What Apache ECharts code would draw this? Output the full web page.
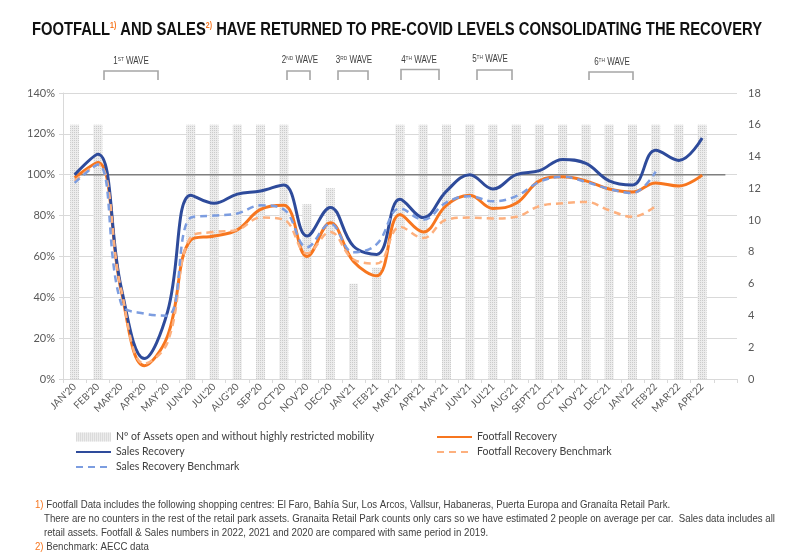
<!DOCTYPE html>
<html>
<head>
<meta charset="utf-8">
<script src="https://cdn.jsdelivr.net/npm/echarts@6/dist/echarts.min.js"></script>
<style>
html,body{margin:0;padding:0;background:#fff;}
#chart{width:800px;height:555px;}
</style>
</head>
<body>
<div id="chart"></div>
<script>
// ---- data ----
const categories = ["JAN'20","FEB'20","MAR'20","APR'20","MAY'20","JUN'20","JUL'20","AUG'20","SEP'20","OCT'20","NOV'20","DEC'20","JAN'21","FEB'21","MAR'21","APR'21","MAY'21","JUN'21","JUL'21","AUG'21","SEPT'21","OCT'21","NOV'21","DEC'21","JAN'22","FEB'22","MAR'22","APR'22",""];
const assetsOpen = [16,16,0,0,0,16,16,16,16,16,11,12,6,7,16,16,16,16,16,16,16,16,16,16,16,16,16,16,null];
const salesRecovery = [100,110,45,10,33,90,86,90.5,92,95,70,84,65,61,88,79,92,100,93,100,102,107.5,105.5,97,95,112,107,118,null];
const salesBenchmark = [96,105,37,32,31,79,80,81,85,83,64.5,76,62,66,83.5,78,86.5,89.5,87,89.5,96.5,99,96.5,93,91,101.5,null,null,null];
const footfallRecovery = [98.5,106,43.5,6.5,21,68,70,73,83,85,60,76.5,57.5,50.5,80.5,72,85,90,83.5,86,97,99,97,93,91.5,96,94.5,99.8,null];
const footfallBenchmark = [97,105,44,7.5,18,69.5,72,73,79,78,61.5,72,58.5,56.5,74.5,69,78,79,78.6,79.4,84.6,86,86.7,82.6,79.4,84.6,null,null,null];
const baseline = [100,100,100,100,100,100,100,100,100,100,100,100,100,100,100,100,100,100,100,100,100,100,100,100,100,100,100,100,100];
const leftTicks = {min:0, max:140, interval:20};
const rightTicks = {min:0, max:18, interval:2};
const waves = [
  {n:'1', sup:'ST', x:131, y:61, x0:104, x1:158, top:71},
  {n:'2', sup:'ND', x:300, y:60, x0:287, x1:310, top:71},
  {n:'3', sup:'RD', x:354, y:60, x0:338, x1:368, top:71},
  {n:'4', sup:'TH', x:419, y:60, x0:401, x1:439, top:69.5},
  {n:'5', sup:'TH', x:490, y:59, x0:477, x1:512, top:70},
  {n:'6', sup:'TH', x:612, y:62, x0:589, x1:633, top:72}
];

const FONT = "'Liberation Sans', Arial, sans-serif";
const LBL = "Lato, 'Liberation Sans', sans-serif";

// text measurement helper for horizontal condensing
const mctx = document.createElement('canvas').getContext('2d');
function tw(txt, size, weight) {
  mctx.font = (weight || 'normal') + ' ' + size + 'px ' + FONT;
  return mctx.measureText(txt).width;
}

const graphics = [];

// Title (condensed via scaleX)
const T1 = 'FOOTFALL', T2 = ' AND SALES', T3 = ' HAVE RETURNED TO PRE-COVID LEVELS CONSOLIDATING THE RECOVERY';
const titleSize = 18, supSize = 8.5;
const titleW = tw(T1, titleSize, 'bold') + tw(T2, titleSize, 'bold') + tw(T3, titleSize, 'bold') + 2 * tw('1)', supSize, 'bold');
const titleScale = 730 / titleW;
graphics.push({
  type:'text', x:397, y:30, scaleX:titleScale, scaleY:1,
  style:{
    x:0, y:0,
    text:'{a|'+T1+'}{s|1)}{a|'+T2+'}{s|2)}{a|'+T3+'}',
    align:'center', textAlign:'center', verticalAlign:'middle', textVerticalAlign:'middle',
    rich:{
      a:{fontFamily:FONT, fontWeight:'bold', fontSize:titleSize, fill:'#111111', color:'#111111'},
      s:{fontFamily:FONT, fontWeight:'bold', fontSize:supSize, fill:'#f7761f', color:'#f7761f', verticalAlign:'top'}
    }
  }
});

waves.forEach(w => {
  graphics.push({
    type:'text', x:w.x, y:w.y, scaleX:0.8, scaleY:1,
    style:{
      x:0, y:0,
      text:'{a|'+w.n+'}{s|'+w.sup+'}{a| WAVE}',
      align:'center', textAlign:'center', verticalAlign:'middle', textVerticalAlign:'middle',
      rich:{
        a:{fontFamily:FONT, fontSize:10, fill:'#404040', color:'#404040'},
        s:{fontFamily:FONT, fontSize:6, fill:'#404040', color:'#404040', verticalAlign:'top'}
      }
    }
  });
  graphics.push({
    type:'polyline',
    shape:{points:[[w.x0,80],[w.x0,w.top],[w.x1,w.top],[w.x1,80]]},
    style:{stroke:'#a6a6a6', lineWidth:1.6, fill:null}
  });
});

// Footnotes
const footSize = 10.5;
const FN2 = 'There are no counters in the rest of the retail park assets. Granaita Retail Park counts only cars so we have estimated 2 people on average per car.  Sales data includes all';
const footScale = 731 / tw(FN2, footSize);
const footRich = {
  o:{fontFamily:FONT, fontSize:footSize, fill:'#f7761f', color:'#f7761f'},
  t:{fontFamily:FONT, fontSize:footSize, fill:'#404040', color:'#404040'}
};
const footnotes = [
  {x:35, y:505, text:'{o|1)}{t| Footfall Data includes the following shopping centres: El Faro, Bahía Sur, Los Arcos, Vallsur, Habaneras, Puerta Europa and Granaíta Retail Park.}'},
  {x:44, y:519, text:'{t|' + FN2 + '}'},
  {x:44, y:533, text:'{t|retail assets. Footfall & Sales numbers in 2022, 2021 and 2020 are compared with same period in 2019.}'},
  {x:35, y:547, text:'{o|2)}{t| Benchmark: AECC data}'}
];
footnotes.forEach(f => {
  graphics.push({type:'text', x:f.x, y:f.y, scaleX:footScale, scaleY:1,
    style:{x:0, y:0, text:f.text, verticalAlign:'middle', textVerticalAlign:'middle', rich:footRich}});
});

const hideSym = {opacity:0};
const legendText = {fontFamily:LBL, fontSize:10.5, color:'#404040', lineHeight:12};
const barDecal = {symbol:'rect', symbolSize:1, dashArrayX:[1,1], dashArrayY:[1,1], color:'rgba(200,200,200,0.9)', rotation:0};

const chart = echarts.init(document.getElementById('chart'), null, {renderer:'canvas'});
chart.setOption({
  animation:false,
  backgroundColor:'#ffffff',
  grid:{left:63, right:63, top:93, bottom:176, containLabel:false},
  legend:[
    {
      orient:'vertical', left:75, top:431, padding:0, itemWidth:35, itemHeight:9, itemGap:3,
      textStyle:legendText,
      data:[
        {name:'Nº of Assets open and without highly restricted mobility', icon:'rect'},
        {name:'Sales Recovery', itemStyle:hideSym},
        {name:'Sales Recovery Benchmark', itemStyle:hideSym}
      ]
    },
    {
      orient:'vertical', left:436, top:431, padding:0, itemWidth:35, itemHeight:9, itemGap:3,
      textStyle:legendText,
      data:[
        {name:'Footfall Recovery', itemStyle:hideSym},
        {name:'Footfall Recovery Benchmark', itemStyle:hideSym}
      ]
    }
  ],
  xAxis:{
    type:'category', data:categories, boundaryGap:true,
    axisLine:{lineStyle:{color:'#d9d9d9', width:1}},
    axisTick:{show:true, length:4, lineStyle:{color:'#d9d9d9'}},
    axisLabel:{rotate:45, interval:0, fontFamily:LBL, fontSize:10, color:'#595959', margin:6}
  },
  yAxis:[
    {
      type:'value', min:leftTicks.min, max:leftTicks.max, interval:leftTicks.interval,
      axisLine:{show:true, lineStyle:{color:'#d9d9d9'}},
      axisTick:{show:true, length:4, lineStyle:{color:'#d9d9d9'}},
      splitLine:{lineStyle:{color:'#d9d9d9', width:1}},
      axisLabel:{formatter:'{value}%', fontFamily:LBL, fontSize:11, color:'#595959', margin:8}
    },
    {
      type:'value', min:rightTicks.min, max:rightTicks.max, interval:rightTicks.interval,
      axisLine:{show:false}, axisTick:{show:false}, splitLine:{show:false},
      axisLabel:{fontFamily:LBL, fontSize:11, color:'#595959', margin:11}
    }
  ],
  graphic:graphics,
  series:[
    {
      name:'Nº of Assets open and without highly restricted mobility', type:'bar', yAxisIndex:1,
      data:assetsOpen, barWidth:9,
      itemStyle:{color:'#ececec', decal:barDecal}, z:1
    },
    {
      name:'baseline', type:'line', data:baseline, symbol:'none', silent:true,
      lineStyle:{color:'#7f7f7f', width:1.6}, z:2
    },
    {
      name:'Footfall Recovery', type:'line', data:footfallRecovery, symbol:'none', smooth:0.4,
      lineStyle:{color:'#f7761f', width:3}, itemStyle:{color:'#f7761f'}, z:3
    },
    {
      name:'Sales Recovery', type:'line', data:salesRecovery, symbol:'none', smooth:0.4,
      lineStyle:{color:'#2e4b9b', width:3}, itemStyle:{color:'#2e4b9b'}, z:4
    },
    {
      name:'Footfall Recovery Benchmark', type:'line', data:footfallBenchmark, symbol:'none', smooth:0.4,
      lineStyle:{color:'#fdb07e', width:2.5, type:[7,5]}, itemStyle:{color:'#fdb07e'}, z:5
    },
    {
      name:'Sales Recovery Benchmark', type:'line', data:salesBenchmark, symbol:'none', smooth:0.4,
      lineStyle:{color:'#7c9de0', width:2.5, type:[7,5]}, itemStyle:{color:'#7c9de0'}, z:6
    }
  ]
});
</script>
</body>
</html>
